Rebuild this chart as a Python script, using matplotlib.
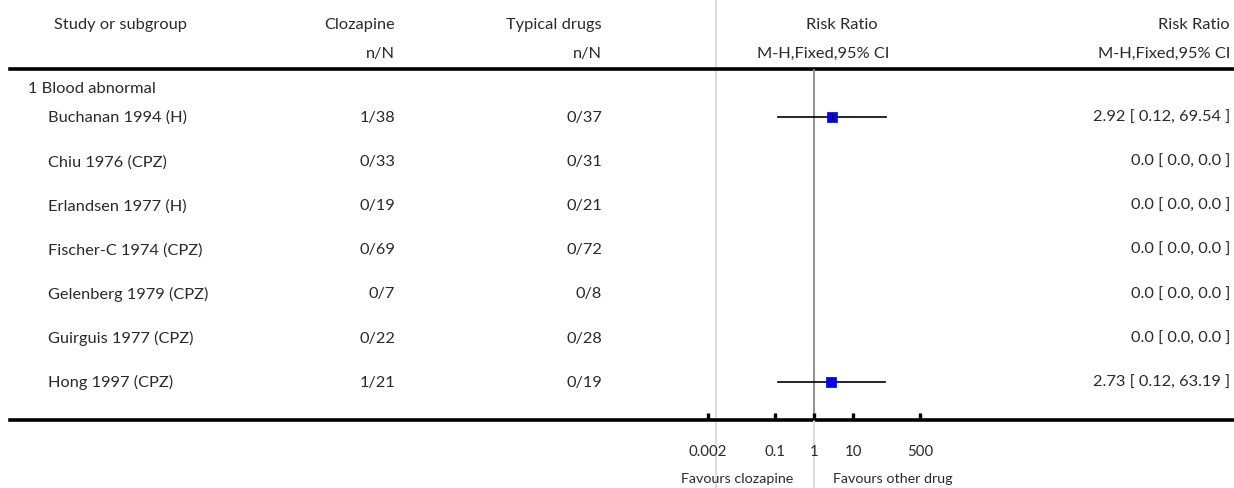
import matplotlib
matplotlib.use('Agg')
import matplotlib.pyplot as plt

# Datos del forest plot
estudios = ['Buchanan 1994 (H)', 'Chiu 1976 (CPZ)', 'Erlandsen 1977 (H)',
            'Fischer-C 1974 (CPZ)', 'Gelenberg 1979 (CPZ)', 'Guirguis 1977 (CPZ)',
            'Hong 1997 (CPZ)']
clozapina = ['1/38', '0/33', '0/19', '0/69', '0/7', '0/22', '1/21']
tipicos = ['0/37', '0/31', '0/21', '0/72', '0/8', '0/28', '0/19']
rr = [2.92, 0.0, 0.0, 0.0, 0.0, 0.0, 2.73]
rr_inf = [0.12, 0.0, 0.0, 0.0, 0.0, 0.0, 0.12]
rr_sup = [69.54, 0.0, 0.0, 0.0, 0.0, 0.0, 63.19]
subgrupo = '1 Blood abnormal'
ticks = [0.002, 0.1, 1, 10, 500]
tick_labels = ['0.002', '0.1', '1', '10', '500']

W, H = 1234, 489
plt.rcParams['font.family'] = ['Lato', 'DejaVu Sans']
txt = dict(fontsize=11.8, color='#2a2a2a')

fig = plt.figure(figsize=(W / 100, H / 100), dpi=100)

# Eje de fondo en píxeles para la tabla
bg = fig.add_axes([0, 0, 1, 1])
bg.set_xlim(0, W)
bg.set_ylim(H, 0)
bg.axis('off')

# Cabeceras
y_h1, y_h2 = 25, 54
bg.text(54, y_h1, 'Study or subgroup', ha='left', va='center', **txt)
bg.text(395, y_h1, 'Clozapine', ha='right', va='center', **txt)
bg.text(395, y_h2, 'n/N', ha='right', va='center', **txt)
bg.text(602, y_h1, 'Typical drugs', ha='right', va='center', **txt)
bg.text(602, y_h2, 'n/N', ha='right', va='center', **txt)
bg.text(842, y_h1, 'Risk Ratio', ha='center', va='center', **txt)
bg.text(823, y_h2, 'M-H,Fixed,95% CI', ha='center', va='center', **txt)
bg.text(1230, y_h1, 'Risk Ratio', ha='right', va='center', **txt)
bg.text(1230, y_h2, 'M-H,Fixed,95% CI', ha='right', va='center', **txt)

# Separador vertical gris claro y líneas horizontales gruesas
bg.plot([716, 716], [0, H], color='#dddddd', lw=1.5, zorder=0)
bg.plot([10, W], [70, 70], color='black', lw=2.6)
bg.plot([10, W], [421, 421], color='black', lw=2.6)

bg.text(28, 89, subgrupo, ha='left', va='center', **txt)

y0, dy = 118, 44.1
filas = [y0 + i * dy for i in range(len(estudios))]
for y, est, c, t, r, lo, hi in zip(filas, estudios, clozapina, tipicos, rr, rr_inf, rr_sup):
    bg.text(48, y, est, ha='left', va='center', **txt)
    bg.text(395, y, c, ha='right', va='center', **txt)
    bg.text(602, y, t, ha='right', va='center', **txt)
    if r > 0:
        etiqueta = f'{r:.2f} [ {lo:.2f}, {hi:.2f} ]'
    else:
        etiqueta = f'{r:.1f} [ {lo:.1f}, {hi:.1f} ]'
    bg.text(1230, y, etiqueta, ha='right', va='center', **txt)

# Eje del forest plot (escala logarítmica)
x_izq, x_der, y_top, y_bot = 708, 920, 70, 421
ax = fig.add_axes([x_izq / W, (H - y_bot) / H, (x_der - x_izq) / W, (y_bot - y_top) / H])
ax.set_xscale('log')
ax.set_xlim(ticks[0], ticks[-1])
ax.set_ylim(y_bot, y_top)
ax.patch.set_alpha(0)
for s in ax.spines.values():
    s.set_visible(False)
ax.set_yticks([])
ax.set_xticks(ticks)
ax.set_xticklabels(tick_labels)
ax.minorticks_off()
ax.tick_params(axis='x', direction='in', length=5, width=2.4, color='black',
               pad=17, labelsize=10.8, labelcolor='#2a2a2a')

# Línea de no efecto
ax.plot([1, 1], [y_top, y_bot], color='#888888', lw=1.3, zorder=1)
ax.plot([1, 1], [y_bot, H], color='#dddddd', lw=1.5, zorder=0, clip_on=False)

for y, r, lo, hi in zip(filas, rr, rr_inf, rr_sup):
    if r > 0:
        ax.plot([lo, hi], [y, y], color='black', lw=1.2, zorder=2)
        ax.plot(r, y, marker='s', ms=6.5, color='#0000ff', mec='#0000cc', mew=0.5, zorder=3)
        ax.plot(r, y, marker='|', ms=4, color='black', mew=0.8, zorder=4)

# Leyenda de dirección
ax.annotate('Favours clozapine', xy=(1, 479), xytext=(-21, 0), textcoords='offset pixels',
            ha='right', va='center', fontsize=10.3,
            color='#2a2a2a', annotation_clip=False)
ax.annotate('Favours other drug', xy=(1, 479), xytext=(19, 0), textcoords='offset pixels',
            ha='left', va='center', fontsize=10.3,
            color='#2a2a2a', annotation_clip=False)

fig.savefig('out.png', dpi=100)
